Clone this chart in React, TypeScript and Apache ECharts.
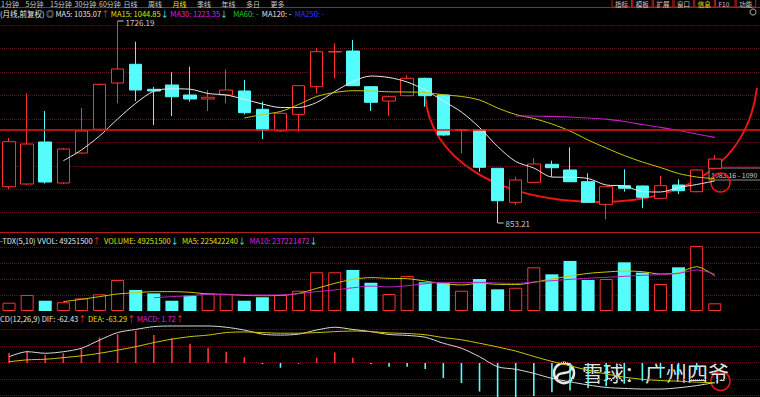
import React, { useEffect, useRef } from 'react';
import * as echarts from 'echarts';

// ---------- data (monthly K-line, 前复权) ----------
const categories: string[] = Array.from({ length: 42 }, (_, i) => `M${i + 1}`);

const opens = [1010.1, 1021.8, 1203.3, 1026.1, 1155.7, 1258.2, 1458.2, 1539.1, 1431.0, 1449.6,
  1406.4, 1389.1, 1406.4, 1423.7, 1344.6, 1250.8, 1323.0, 1442.3, 1592.2, 1596.5,
  1442.3, 1380.4, 1403.4, 1478.6, 1406.4, 1252.9, 1255.1, 1089.6, 942.7, 1029.0,
  1106.9, 1082.3, 1031.7, 934.0, 1014.4, 1013.1, 959.9, 1017.4, 988.5, 1089.6];
const closes = [1204.6, 1194.6, 1030.4, 1173.0, 1250.8, 1452.6, 1518.7, 1428.0, 1423.7, 1399.0,
  1389.1, 1396.5, 1428.0, 1329.9, 1255.1, 1327.3, 1446.6, 1593.5, 1594.4, 1446.6,
  1374.8, 1399.0, 1478.6, 1403.4, 1233.5, 1256.4, 1093.9, 949.6, 1039.0, 1108.2,
  1092.2, 1031.7, 942.7, 1010.1, 1003.2, 964.3, 1014.4, 992.8, 1082.3, 1129.8];
const lows = [1000.1, 1017.4, 1023.9, 1021.8, 1151.4, 1255.0, 1370.5, 1380.4, 1276.7, 1315.6,
  1377.5, 1337.2, 1370.5, 1322.0, 1216.2, 1248.0, 1247.8, 1413.7, 1478.6, 1445.0,
  1337.2, 1315.6, 1401.0, 1355.8, 1229.0, 1154.4, 1074.9, 853.21, 931.0, 1027.0,
  1053.3, 1030.0, 940.0, 869.0, 988.5, 917.0, 958.0, 978.5, 986.0, 1087.0];
const highs = [1220.5, 1413.7, 1337.2, 1177.3, 1350.2, 1455.0, 1726.19, 1636.7, 1441.0, 1504.5,
  1528.7, 1428.0, 1517.4, 1471.2, 1377.5, 1330.0, 1449.6, 1608.2, 1629.8, 1644.0,
  1445.0, 1401.0, 1492.8, 1481.0, 1408.0, 1259.4, 1257.0, 1091.0, 1053.3, 1132.8,
  1122.5, 1180.4, 1068.0, 1012.0, 1085.3, 1015.0, 1056.3, 1042.0, 1085.0, 1147.1];

const ma5 = [1122.4, 1168.7, 1229.2, 1302.7, 1370.5, 1422.8, 1433.2, 1431.5, 1412.9, 1406.4,
  1387.8, 1367.5, 1352.4, 1352.4, 1374.0, 1421.5, 1464.7, 1488.5, 1482.0, 1462.6,
  1428.0, 1380.4, 1332.9, 1265.9, 1183.8, 1119.0, 1090.9, 1052.0, 1050.7, 1045.5,
  1017.4, 1013.1, 989.4, 987.2, 1006.6, 1019.6, 1035.07]; // from index 3
const ma15 = [1307.0, 1322.1, 1335.0, 1365.3, 1400.0, 1417.2, 1425.0, 1423.7, 1420.2, 1419.3,
  1417.2, 1407.3, 1400.0, 1384.8, 1350.2, 1322.1, 1304.8, 1281.1, 1250.8, 1211.9,
  1177.3, 1144.9, 1116.8, 1093.0, 1067.2, 1052.0, 1044.85]; // from index 13
const ma30 = [1315.6, 1315.6, 1313.5, 1311.3, 1307.0, 1301.8, 1291.9, 1278.9, 1266.8, 1253.0,
  1237.8, 1223.35]; // from index 28
const supportLevel = 1258;

const volumes = [53000000, 103000000, 66000000, 56000000, 81000000, 107000000, 199000000, 135000000, 113000000, 66000000,
  98000000, 113000000, 107000000, 66000000, 88000000, 103000000, 130000000, 248000000, 248000000, 263000000,
  181000000, 109000000, 224000000, 184000000, 178000000, 130000000, 205000000, 139000000, 149000000, 280000000,
  235000000, 321000000, 199000000, 205000000, 312000000, 246000000, 173000000, 280000000, 417000000, 49251500];
const volMa5 = [60, 75, 92, 109, 117, 124, 124, 120, 109, 107, 100, 98, 100, 113, 145, 177, 203, 214, 209, 207,
  192, 175, 167, 177, 171, 169, 184, 205, 224, 241, 250, 256, 252, 237, 246, 284, 225.42224]; // millions, from index 3
const volMa10 = [85, 92, 98, 107, 105, 103, 103, 103, 111, 124, 135, 149, 160, 154, 162, 175, 184, 181, 184, 179,
  177, 186, 194, 203, 210, 216, 222, 229, 233, 241, 263, 237.221472]; // millions, from index 8

const dif = [20, 36, 31, 36, 47, 73, 97, 107, 116, 118, 118, 118, 114, 105, 92, 89, 92, 105, 114, 107,
  100, 91, 88, 82, 63, 47, 20, -12, -20, -33, -49, -60, -70, -78, -81, -83, -83, -79, -72, -62.43];
const dea = [4, 10, 12, 17, 23, 31, 41, 52, 65, 76, 84, 89, 97, 99, 97, 95, 95, 97, 100, 102,
  100, 96, 94, 90, 81, 74, 63, 51, 38, 21, 5, -9, -23, -35, -45, -52, -56, -58, -61, -63.29];
const macd = [32, 39, 26, 31, 47, 82, 92, 103, 89, 79, 61, 49, 36, 18, -3, -15, -2, 17, 34, 17,
  -3, -12, -12, -19, -48, -64, -91, -120, -112, -105, -93, -88, -80, -74, -66, -58, -48, -38, -22, 1.72];

const toolbarLeft = ['1分钟', '5分钟', '15分钟', '30分钟', '60分钟', '日线', '周线', '月线', '季线', '年线', '多日', '更多'];
const toolbarRight = ['指标', '模板', '扩展', '窗口', '信息', 'F10', '功能'];

// ---------- styles ----------
const UP = '#ff3232';
const DOWN = '#54fcfc';
const WHITE = '#e6e6e6';
const YELLOW = '#e0e000';
const MAGENTA = '#e020e0';
const GRIDC = '#5a1616';
const SEP = '#b41c1c';
const FONT = '"Noto Sans CJK SC", "Noto Sans", sans-serif';
const HS = 7.5; // header font size

const pad = (n: number, arr: number[]) => [...Array(n).fill('-'), ...arr];

function txt(x: number, y: number, text: string, fill: string, size = 8, extra: any = {}) {
  return {
    type: 'text', x, y, silent: true,
    style: { text, fill, fontSize: size, fontFamily: FONT, verticalAlign: 'middle', ...extra },
  };
}

const rs = (c: string, size = HS) => ({ fill: c, color: c, fontSize: size, fontFamily: FONT });
const RICH = {
  w: rs(WHITE), y: rs(YELLOW), m: rs(MAGENTA), g: rs('#20d020'), b: rs('#2a3cff'),
  r: rs(UP, 8), c: rs(DOWN, 8),
};
function richLine(x: number, y: number, text: string) {
  return {
    type: 'text', x, y, silent: true,
    style: { text, rich: RICH, fill: WHITE, fontSize: HS, fontFamily: FONT, verticalAlign: 'middle' },
  };
}

function buildOption() {
  const n = closes.length;
  const last = n - 1;
  const left = -8.75;
  const width = 42 * 18.49;
  const hiIdx = highs.indexOf(Math.max(...highs));
  const loIdx = lows.indexOf(Math.min(...lows));
  const fmtVol = (v: number) => Math.round(v).toString();

  const h1 = '{w|(月线,前复权) ◎ MA5: ' + ma5[ma5.length - 1].toFixed(2) + '}{r|↑} '
    + '{y|MA15: ' + ma15[ma15.length - 1].toFixed(2) + '}{c|↓} '
    + '{m|MA30: ' + ma30[ma30.length - 1].toFixed(2) + '}{c|↓}   '
    + '{g|MA60: -}  {w|MA120: -}  {b|MA250: -}';
  const h2 = '{w|-TDX(5,10) VVOL: ' + fmtVol(volumes[last]) + '}{r|↑}  '
    + '{y|VOLUME: ' + fmtVol(volumes[last]) + '}{c|↓}  '
    + '{y|MA5: ' + fmtVol(volMa5[volMa5.length - 1] * 1e6) + '}{c|↓}  '
    + '{m|MA10: ' + fmtVol(volMa10[volMa10.length - 1] * 1e6) + '}{c|↓}';
  const h3 = '{w|CD(12,26,9) DIF: ' + dif[last].toFixed(2) + '}{r|↑} '
    + '{y|DEA: ' + dea[last].toFixed(2) + '}{r|↑} '
    + '{m|MACD: ' + macd[last].toFixed(2) + '}{r|↑}';

  const tbLeft = toolbarLeft.map((t, i) =>
    txt(1 + i * 24.5, 3.6, t, t === '月线' ? '#e8e800' : '#c8c8c8', 7));
  const tbRight: any[] = [];
  toolbarRight.forEach((t, i) => {
    const x = 612 + i * 20.7;
    tbRight.push({ type: 'rect', shape: { x, y: -4, width: 19.5, height: 11 }, style: { fill: '#000', stroke: SEP, lineWidth: 1 }, silent: true });
    tbRight.push(txt(x + 3, 3.8, t, t === '信息' ? '#e8e800' : '#c8c8c8', 6.5));
  });

  const graphic: any[] = [
    { type: 'line', shape: { x1: 0, y1: 7.5, x2: 760, y2: 7.5 }, style: { stroke: SEP, lineWidth: 1 }, silent: true },
    { type: 'line', shape: { x1: 0, y1: 232.5, x2: 760, y2: 232.5 }, style: { stroke: SEP, lineWidth: 1 }, silent: true },
    ...tbLeft, ...tbRight,
    { type: 'circle', shape: { cx: 753, cy: 12, r: 3 }, style: { fill: 'none', stroke: '#888', lineWidth: 1.2 }, silent: true },
    richLine(0, 13, h1),
    richLine(0, 240.5, h2),
    richLine(0, 318, h3),
    // hand-drawn arc
    { type: 'bezierCurve', shape: { x1: 425, y1: 93, cpx1: 428, cpy1: 160, cpx2: 500, cpy2: 202, x2: 600, y2: 202 }, style: { stroke: '#f01414', lineWidth: 2, fill: 'none' }, silent: true },
    { type: 'bezierCurve', shape: { x1: 600, y1: 202, cpx1: 690, cpy1: 202, cpx2: 748, cpy2: 160, x2: 757, y2: 88 }, style: { stroke: '#f01414', lineWidth: 2, fill: 'none' }, silent: true },
    // price readout
    { type: 'rect', shape: { x: 709, y: 168, width: 60, height: 12 }, style: { fill: 'rgba(0,0,0,0.7)', stroke: '#8a8a8a', lineWidth: 1 }, silent: true },
    txt(711, 174.5, '1083.16 - 1090', '#d0d0d0', 7),
    { type: 'circle', shape: { cx: 720.5, cy: 182.5, r: 9.5 }, style: { fill: 'none', stroke: '#f01414', lineWidth: 1.5 }, silent: true },
    { type: 'circle', shape: { cx: 720.5, cy: 381, r: 9.5 }, style: { fill: 'none', stroke: '#f01414', lineWidth: 1.5 }, silent: true },
    // watermark
    { type: 'circle', shape: { cx: 564, cy: 373, r: 10 }, style: { fill: 'none', stroke: 'rgba(255,255,255,0.9)', lineWidth: 2.6 }, silent: true },
    { type: 'bezierCurve', shape: { x1: 557, y1: 380, cpx1: 555, cpy1: 368, cpx2: 573, cpy2: 378, x2: 571, y2: 366 }, style: { stroke: 'rgba(255,255,255,0.9)', lineWidth: 2.4, fill: 'none' }, silent: true },
    txt(582, 372, '雪球：广州四爷', 'rgba(255,255,255,0.9)', 21),
  ];

  const hideAxis = { axisLine: { show: false }, axisTick: { show: false }, axisLabel: { show: false } };
  const gridLine = { show: true, lineStyle: { color: GRIDC, type: 'dotted', width: 1 } };

  return {
    animation: false,
    backgroundColor: '#000',
    grid: [
      { left, width, top: 20, height: 210 },
      { left, width, top: 245, height: 66 },
      { left, width, top: 322, height: 75 },
      { left: 0, right: 0, top: 25, height: 187.7 },
      { left: 0, right: 0, top: 247.3, height: 48 },
      { left: 0, right: 0, top: 329.5, height: 66 },
    ],
    xAxis: [
      ...[0, 1, 2].map((g) => ({ type: 'category', gridIndex: g, data: categories, boundaryGap: true, show: false })),
      ...[3, 4, 5].map((g) => ({ type: 'value', gridIndex: g, min: 0, max: 1, show: false })),
    ],
    yAxis: [
      { type: 'value', gridIndex: 0, min: 823, max: 1730.5, show: false },
      { type: 'value', gridIndex: 1, min: 0, max: 423000000, show: false },
      { type: 'value', gridIndex: 2, min: -108.4, max: 130.7, show: false },
      { type: 'value', gridIndex: 3, min: 0, max: 8, interval: 1, ...hideAxis, splitLine: gridLine },
      { type: 'value', gridIndex: 4, min: 0, max: 3, interval: 1, ...hideAxis, splitLine: gridLine },
      { type: 'value', gridIndex: 5, min: 0, max: 4, interval: 1, ...hideAxis, splitLine: gridLine },
    ],
    graphic,
    series: [
      {
        type: 'candlestick', xAxisIndex: 0, yAxisIndex: 0, barWidth: 13,
        data: opens.map((o, i) => [o, closes[i], lows[i], highs[i]]),
        itemStyle: { color: '#000', color0: DOWN, borderColor: UP, borderColor0: DOWN, borderWidth: 1 },
        markLine: {
          silent: true, symbol: ['none', 'none'], label: { show: false },
          lineStyle: { color: '#f01414', width: 1.5, type: 'solid' },
          data: [{ yAxis: supportLevel }],
        },
        markPoint: {
          silent: true, symbol: 'rect', symbolSize: [6, 1], symbolOffset: [3, 0],
          itemStyle: { color: '#c8c8c8' },
          label: { show: true, position: 'right', distance: 2, color: '#c8c8c8', fontSize: 8, fontFamily: FONT, formatter: '{c}' },
          data: [
            { coord: [categories[hiIdx], highs[hiIdx]], value: highs[hiIdx], label: { offset: [0, 2] } },
            { coord: [categories[loIdx], lows[loIdx]], value: lows[loIdx] },
          ],
        },
      },
      { type: 'line', xAxisIndex: 0, yAxisIndex: 0, data: pad(3, ma5), symbol: 'none', smooth: 0.3, lineStyle: { color: WHITE, width: 1 } },
      { type: 'line', xAxisIndex: 0, yAxisIndex: 0, data: pad(13, ma15), symbol: 'none', smooth: 0.3, lineStyle: { color: '#c8c800', width: 1 } },
      { type: 'line', xAxisIndex: 0, yAxisIndex: 0, data: pad(28, ma30), symbol: 'none', smooth: 0.3, lineStyle: { color: '#c020c0', width: 1.2 } },
      {
        type: 'bar', xAxisIndex: 1, yAxisIndex: 1, barWidth: 13,
        data: volumes.map((v, i) => ({
          value: v,
          itemStyle: closes[i] >= opens[i]
            ? { color: '#000', borderColor: UP, borderWidth: 1 }
            : { color: DOWN, borderWidth: 0 },
        })),
      },
      { type: 'line', xAxisIndex: 1, yAxisIndex: 1, data: pad(3, volMa5.map((v) => v * 1e6)), symbol: 'none', smooth: 0.3, lineStyle: { color: '#c8c800', width: 1 } },
      { type: 'line', xAxisIndex: 1, yAxisIndex: 1, data: pad(8, volMa10.map((v) => v * 1e6)), symbol: 'none', smooth: 0.3, lineStyle: { color: '#c020c0', width: 1 } },
      {
        type: 'bar', xAxisIndex: 2, yAxisIndex: 2, barWidth: 1.6,
        data: macd.map((v) => ({ value: v, itemStyle: { color: v >= 0 ? UP : DOWN } })),
      },
      { type: 'line', xAxisIndex: 2, yAxisIndex: 2, data: dif, symbol: 'none', smooth: 0.3, lineStyle: { color: '#d8d8d8', width: 1 } },
      { type: 'line', xAxisIndex: 2, yAxisIndex: 2, data: dea, symbol: 'none', smooth: 0.3, lineStyle: { color: '#c8c800', width: 1 } },
    ],
  };
}

export default function App() {
  const ref = useRef<HTMLDivElement>(null);
  useEffect(() => {
    document.body.style.margin = '0';
    document.body.style.background = '#000';
    const chart = echarts.init(ref.current!, undefined, { renderer: 'svg' });
    chart.setOption(buildOption() as any);
    return () => chart.dispose();
  }, []);
  return <div ref={ref} style={{ width: 760, height: 397 }} />;
}
